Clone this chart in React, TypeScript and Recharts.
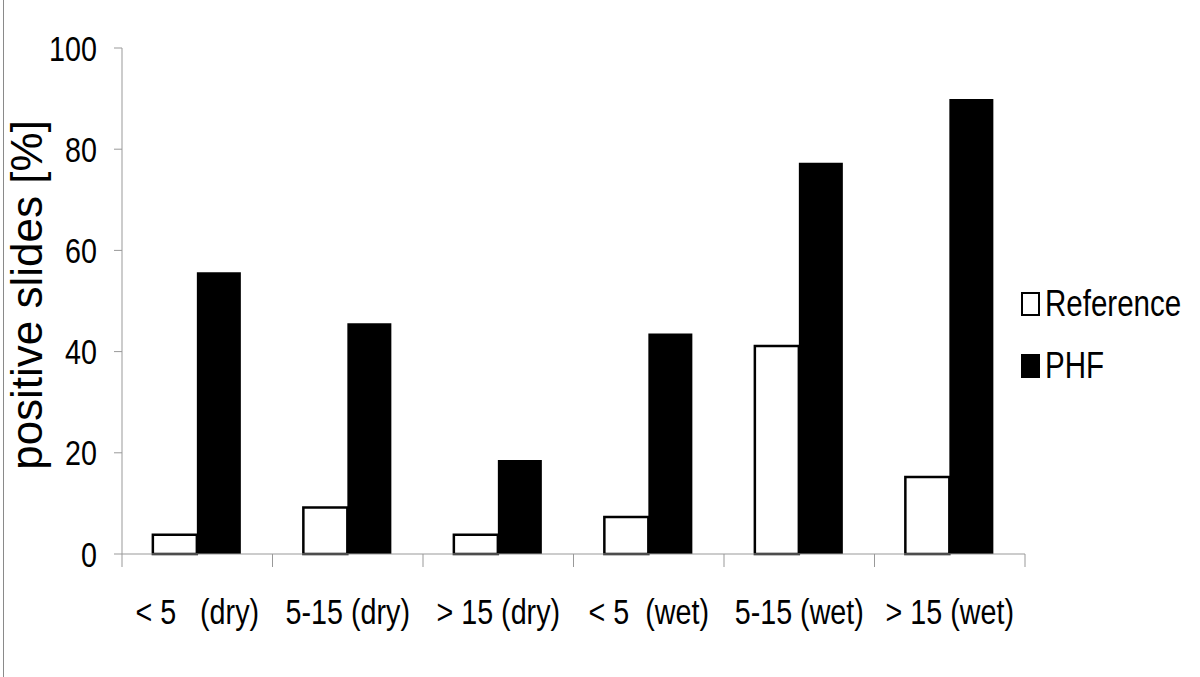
import React from 'react';
import { Bar, BarChart, XAxis, YAxis, Legend } from 'recharts';

const categories = ['< 5   (dry)', '5-15 (dry)', '> 15 (dry)', '< 5  (wet)', '5-15 (wet)', '> 15 (wet)'];
const referenceValues = [3.8, 9.2, 3.8, 7.3, 41.1, 15.2];
const phfValues = [55.7, 45.6, 18.6, 43.6, 77.3, 89.9];
const yTicks = [0, 20, 40, 60, 80, 100];

const data = categories.map((name, i) => ({
  name,
  reference: referenceValues[i],
  phf: phfValues[i],
}));

const font = "'Liberation Sans', Arial, sans-serif";
const squeeze = 0.82; // the original uses a condensed face
const axisGray = '#999999';

// category label plus tick marks on the band edges (Excel style)
function CategoryTick(props: any) {
  const { x, y, payload, index, width, visibleTicksCount } = props;
  const half = payload.offset ?? width / visibleTicksCount / 2;
  const isLast = index === visibleTicksCount - 1;
  return (
    <g>
      <line x1={x - half} x2={x - half} y1={y} y2={y + 13} stroke={axisGray} />
      {isLast && <line x1={x + half} x2={x + half} y1={y} y2={y + 13} stroke={axisGray} />}
      <text
        transform={`translate(${x}, ${y + 70}) scale(${squeeze}, 1)`}
        textAnchor="middle"
        fill="#000"
        fontSize={35}
        fontFamily={font}
        style={{ whiteSpace: 'pre' }}
      >
        {payload.value}
      </text>
    </g>
  );
}

function ValueTick(props: any) {
  const { x, y, payload } = props;
  return (
    <text
      transform={`translate(${x}, ${y}) scale(${squeeze}, 1)`}
      dy="0.36em"
      textAnchor="end"
      fill="#000"
      fontSize={35}
      fontFamily={font}
    >
      {payload.value}
    </text>
  );
}

function YTitle(props: any) {
  const vb = props.viewBox || { x: 0, y: 48, width: 122, height: 506 };
  const cy = vb.y + vb.height / 2 - 6;
  return (
    <text
      transform={`translate(42, ${cy}) rotate(-90)`}
      textAnchor="middle"
      fill="#000"
      fontSize={44}
      fontFamily={font}
    >
      positive slides [%]
    </text>
  );
}

function LegendBox() {
  const items = [
    { label: 'Reference', fill: '#fff' },
    { label: 'PHF', fill: '#000' },
  ];
  return (
    <div style={{ display: 'flex', flexDirection: 'column' }}>
      {items.map((it) => (
        <div key={it.label} style={{ display: 'flex', alignItems: 'center', height: 62 }}>
          <span
            style={{
              display: 'inline-block',
              flexShrink: 0,
              boxSizing: 'border-box',
              width: 19,
              height: 24,
              background: it.fill,
              border: '2.5px solid #000',
              marginRight: 5,
            }}
          />
          <span
            style={{
              display: 'inline-block',
              fontFamily: font,
              fontSize: 36,
              color: '#000',
              lineHeight: '36px',
              whiteSpace: 'nowrap',
              transform: `scaleX(${squeeze})`,
              transformOrigin: 'left center',
            }}
          >
            {it.label}
          </span>
        </div>
      ))}
    </div>
  );
}

export default function App() {
  return (
    <div style={{ position: 'relative', width: 1200, height: 677, background: '#fff' }}>
      <style>{'body{margin:0;background:#fff}'}</style>
      <div style={{ position: 'absolute', left: 3, top: 0, width: 1, height: 677, background: '#8a8a8a' }} />
      <BarChart
        width={1200}
        height={677}
        data={data}
        margin={{ top: 48, right: 175, bottom: 63, left: 0 }}
        barCategoryGap="20.5%"
        barGap={0}
      >
        <XAxis
          dataKey="name"
          height={60}
          tickLine={false}
          tickSize={0}
          tickMargin={0}
          axisLine={{ stroke: axisGray }}
          tick={<CategoryTick />}
          interval={0}
        />
        <YAxis
          width={122}
          domain={[0, 100]}
          ticks={yTicks}
          tickSize={8}
          tickMargin={17}
          axisLine={{ stroke: axisGray }}
          tickLine={{ stroke: axisGray }}
          tick={<ValueTick />}
          label={<YTitle />}
        />
        <Legend
          layout="vertical"
          align="center"
          verticalAlign="middle"
          content={<LegendBox />}
          wrapperStyle={{ left: 1021, top: 273, width: 179 }}
        />
        <Bar dataKey="reference" name="Reference" fill="#fff" stroke="#000" strokeWidth={2.5} isAnimationActive={false} />
        <Bar dataKey="phf" name="PHF" fill="#000" isAnimationActive={false} />
      </BarChart>
    </div>
  );
}
